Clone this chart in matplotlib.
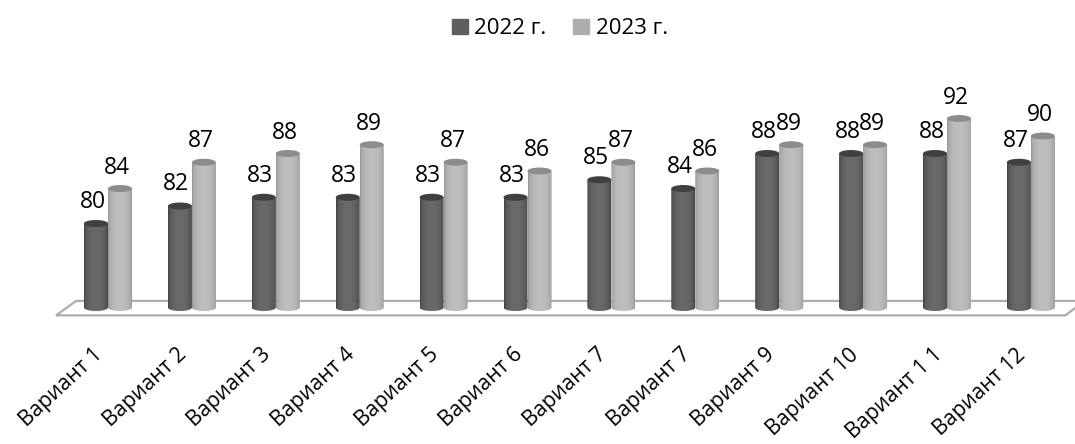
import numpy as np
import matplotlib
matplotlib.use('Agg')
import matplotlib.pyplot as plt
from matplotlib.patches import Ellipse, Polygon, Patch
from matplotlib.transforms import ScaledTranslation

plt.rcParams['font.family'] = ['Open Sans', 'DejaVu Sans']

# data
labels = ['Вариант 1', 'Вариант 2', 'Вариант 3', 'Вариант 4', 'Вариант 5', 'Вариант 6',
          'Вариант 7', 'Вариант 7', 'Вариант 9', 'Вариант 10', 'Вариант 1 1', 'Вариант 12']
y2022 = [80, 82, 83, 83, 83, 83, 85, 84, 88, 88, 88, 87]
y2023 = [84, 87, 88, 89, 87, 86, 87, 86, 89, 89, 92, 90]
names = ['2022 г.', '2023 г.']

W, H = 1075, 444
step = 83.9      # px per group
unit = 8.75      # px per value unit
base = 70
bar_w = 24 / step
cap_h = 7 / unit

fig = plt.figure(figsize=(W / 100, H / 100), dpi=100)
ax = fig.add_axes([60 / W, (H - 311) / H, 1010 / W, 220 / H])
x0 = (60 - 108) / step
ax.set_xlim(x0, x0 + 1010 / step)
ax.set_ylim(base, base + 220 / unit)
for s in ax.spines.values():
    s.set_visible(False)
ax.set_yticks([])
ax.set_xticks(range(len(labels)))
ax.set_xticklabels(labels, rotation=43, ha='right', va='top', rotation_mode='anchor', fontsize=15.3)
ax.tick_params(axis='x', length=0, pad=24)
for lab in ax.get_xticklabels():
    lab.set_transform(lab.get_transform() + ScaledTranslation(-0.15, 0, fig.dpi_scale_trans))


# floor of the 3d chart
def floor():
    pts = [(-0.62, 69.5), (-0.38, 71.15), (11.64, 71.15), (11.41, 69.5)]
    ax.add_patch(Polygon(pts, closed=True, fc='white', ec='#adadad', lw=1.6, clip_on=False, zorder=1))


def cylinder(xc, val, edge, mid, top):
    # horizontal shading, clipped to a shape with rounded bottom
    t = np.linspace(-1, 1, 40)
    shade = np.sqrt(1 - t ** 2)
    c0 = np.array(edge)
    c1 = np.array(mid)
    img = np.array([[c0 + (c1 - c0) * v for v in shade]]) / 255
    left, right = xc - bar_w / 2, xc + bar_w / 2
    im = ax.imshow(img, extent=[left, right, base - cap_h, val], aspect='auto', zorder=3)
    a = np.linspace(0, np.pi, 30)
    arc = np.column_stack([xc - np.cos(a) * bar_w / 2, base + cap_h / 2 - np.sin(a) * cap_h / 2])
    outline = np.vstack([[left, val], arc, [right, val]])
    clip = Polygon(outline, closed=True, transform=ax.transData, fc='none', ec='none')
    ax.add_patch(clip)
    clip.set_clip_on(False)
    im.set_clip_box(fig.bbox)
    im.set_clip_path(clip)
    ax.add_patch(Ellipse((xc, val), bar_w, cap_h, fc=top, ec='none', zorder=4, clip_on=False))


floor()
for i in range(len(labels)):
    cylinder(i - bar_w / 2, y2022[i], (66, 66, 66), (106, 106, 106), '#404040')
    cylinder(i + bar_w / 2, y2023[i], (150, 150, 150), (190, 190, 190), '#8c8c8c')
    ax.annotate(str(y2022[i]), (i - bar_w / 2, y2022[i]), xytext=(-2.5, 15.5), textcoords='offset points',
                ha='center', va='center', fontsize=16.5, color='black', zorder=5, annotation_clip=False)
    ax.annotate(str(y2023[i]), (i + bar_w / 2, y2023[i]), xytext=(-2, 15), textcoords='offset points',
                ha='center', va='center', fontsize=16.5, color='black', zorder=5, annotation_clip=False)

ax.set_xlim(x0, x0 + 1010 / step)
ax.set_ylim(base, base + 220 / unit)

handles = [Patch(color='#5f5f5f'), Patch(color='#adadad')]
fig.legend(handles, names, ncols=2, loc='center', bbox_to_anchor=(560 / W, (H - 29) / H), frameon=False,
           fontsize=16, handlelength=0.7, handleheight=0.7, handletextpad=0.3, columnspacing=1.2)

fig.savefig('out.png', dpi=100, facecolor='white')
